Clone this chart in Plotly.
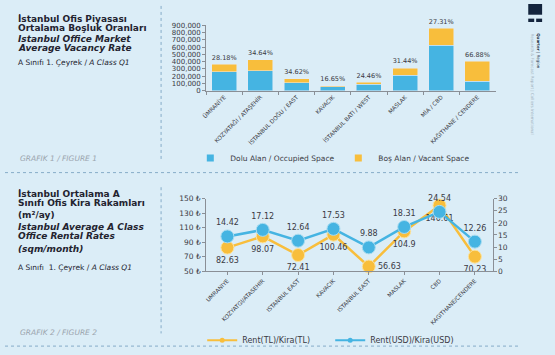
import plotly.graph_objects as go

# ---------------- Figure 1 data ----------------
districts1 = ["ÜMRANİYE", "KOZYATAĞI / ATAŞEHİR", "İSTANBUL DOĞU / EAST", "KAVACIK",
              "İSTANBUL BATI / WEST", "MASLAK", "MİA / CBD", "KAĞITHANE / CENDERE"]
occupied = [262000, 278000, 110000, 55000, 88000, 214000, 624000, 134000]
vacant = [103000, 147000, 58000, 11000, 28000, 98000, 234000, 271000]
vacancy_rate = [28.18, 34.64, 34.62, 16.65, 24.46, 31.44, 27.31, 66.88]

# ---------------- Figure 2 data ----------------
districts2 = ["UMRANIYE", "KOZYATGI/ATASEHIR", "ISTANBUL EAST", "KAVACIK",
              "ISTANBUL EAST", "MASLAK", "CBD", "KAGITHANE/CENDERE"]
rent_tl = [82.63, 98.07, 72.41, 100.46, 56.63, 104.9, 140.61, 70.23]
rent_usd = [14.42, 17.12, 12.64, 17.53, 9.88, 18.31, 24.54, 12.26]

W, H = 555, 355
BG = "#dbedf7"
BLUE = "#45b4e2"
YELLOW = "#f8be3c"
TXT = "#23232f"
LBL = "#3a3a44"
FONT = "DejaVu Sans"


def px(x):
    return x / W


def py(y):
    return 1 - y / H


fig = go.Figure()

# Figure 1 bars
fig.add_trace(go.Bar(x=districts1, y=occupied, marker_color=BLUE, showlegend=False,
                     xaxis="x", yaxis="y", hoverinfo="skip"))
fig.add_trace(go.Bar(x=districts1, y=vacant, marker_color=YELLOW, showlegend=False,
                     xaxis="x", yaxis="y", hoverinfo="skip",
                     text=[f"{v:.2f}%" for v in vacancy_rate], textposition="outside",
                     textfont=dict(size=7.5, color=LBL, family=FONT), cliponaxis=False))
# legend entries fig 1
fig.add_trace(go.Scatter(x=[None], y=[None], mode="markers", name="Dolu Alan / Occupied Space",
                         marker=dict(symbol="square", size=7, color=BLUE), legend="legend",
                         xaxis="x", yaxis="y"))
fig.add_trace(go.Scatter(x=[None], y=[None], mode="markers", name="Boş Alan / Vacant Space",
                         marker=dict(symbol="square", size=7, color=YELLOW), legend="legend",
                         xaxis="x", yaxis="y"))

# Figure 2 lines
idx = list(range(len(districts2)))
tl_pos = ["bottom center"] * len(idx)
tl_pos[4] = "middle right"
fig.add_trace(go.Scatter(x=idx, y=rent_tl, mode="lines+markers+text", showlegend=False,
                         line=dict(color=YELLOW, width=2.5),
                         marker=dict(size=13, color=YELLOW, line=dict(color="#fbe3a0", width=1)),
                         text=[f"{v:g}" for v in rent_tl], textposition=tl_pos,
                         textfont=dict(size=8, color=LBL, family=FONT),
                         xaxis="x2", yaxis="y2", cliponaxis=False, hoverinfo="skip"))
fig.add_trace(go.Scatter(x=idx, y=rent_usd, mode="lines+markers+text", showlegend=False,
                         line=dict(color=BLUE, width=2.5),
                         marker=dict(size=13, color=BLUE, line=dict(color="#a8dcf1", width=1)),
                         text=[f"{v:g}" for v in rent_usd], textposition="top center",
                         textfont=dict(size=8, color=LBL, family=FONT),
                         xaxis="x2", yaxis="y3", cliponaxis=False, hoverinfo="skip"))
fig.add_trace(go.Scatter(x=[None], y=[None], mode="lines+markers", name="Rent(TL)/Kira(TL)",
                         line=dict(color=YELLOW, width=2), marker=dict(size=5, color=YELLOW),
                         legend="legend2", xaxis="x2", yaxis="y2"))
fig.add_trace(go.Scatter(x=[None], y=[None], mode="lines+markers", name="Rent(USD)/Kira(USD)",
                         line=dict(color=BLUE, width=2), marker=dict(size=5, color=BLUE),
                         legend="legend2", xaxis="x2", yaxis="y2"))

axis_common = dict(showgrid=False, zeroline=False, showline=True, linecolor="#8a8f96",
                   linewidth=1, ticks="outside", ticklen=3, tickcolor="#8a8f96",
                   tickfont=dict(size=7.5, color=LBL, family=FONT))
cat_font = dict(size=5.7, color=LBL, family=FONT)

fig.update_layout(
    width=W, height=H, margin=dict(l=0, r=0, t=0, b=0),
    paper_bgcolor=BG, plot_bgcolor=BG,
    font=dict(family=FONT, color=TXT),
    barmode="stack", bargap=0.31,
    xaxis=dict(domain=[px(203), px(495)], anchor="y", type="category",
               tickangle=-45, tickson="boundaries", **{**axis_common, "tickfont": cat_font}),
    yaxis=dict(domain=[py(89), py(22)], anchor="x", range=[0, 900000], dtick=100000,
               tickformat=",d",
               **{**axis_common, "tickfont": dict(size=7, color=LBL, family=FONT)}),
    xaxis2=dict(domain=[px(203), px(492)], anchor="y2", range=[-0.6, 7.5],
                tickvals=idx, ticktext=districts2, tickangle=-45,
                **{**axis_common, "tickfont": cat_font}),
    yaxis2=dict(domain=[py(274.3), py(199.7)], anchor="x2", range=[50, 150], dtick=20,
                tick0=50, ticksuffix=" ₺", **axis_common),
    yaxis3=dict(overlaying="y2", anchor="x2", side="right", range=[0, 30], dtick=5,
                **axis_common),
    legend=dict(orientation="h", x=px(187), y=py(158), xanchor="left", yanchor="middle",
                traceorder="normal",
                bgcolor="rgba(0,0,0,0)", font=dict(size=7.5, color=LBL, family=FONT),
                itemwidth=30, entrywidth=103),
    legend2=dict(orientation="h", x=px(199), y=py(345), xanchor="left", yanchor="middle",
                 traceorder="normal",
                 bgcolor="rgba(0,0,0,0)", font=dict(size=8, color=LBL, family=FONT),
                 itemwidth=30, entrywidth=83),
)

# Left-side texts
def note(x, y, text, size, color=TXT, **kw):
    fig.add_annotation(x=px(x), y=py(y), xref="paper", yref="paper", text=text,
                       showarrow=False, xanchor="left", yanchor="middle",
                       font=dict(size=size, color=color, family=FONT), **kw)

TS = 9
note(11, 15.5, "<b>İstanbul Ofis Piyasası</b>", TS)
note(11, 25, "<b>Ortalama Boşluk Oranları</b>", TS)
note(11, 36, "<b><i>Istanbul Office Market</i></b>", TS)
note(11, 45, "<b><i>Average Vacancy Rate</i></b>", TS)
note(11, 60.5, "A Sınıfı 1. Çeyrek / <i>A Class Q1</i>", 7.5)
note(13, 159, "<i>GRAFIK 1 / FIGURE 1</i>", 7.5, color="#9aa4ad")

note(11, 195, "<b>İstanbul Ortalama A</b>", TS)
note(11, 204.5, "<b>Sınıfı Ofis Kira Rakamları</b>", TS)
note(11, 217, "<b>(m²/ay)</b>", TS)
note(11, 229, "<b><i>Istanbul Average A Class</i></b>", TS)
note(11, 238, "<b><i>Office Rental Rates</i></b>", TS)
note(11, 251, "<b><i>(sqm/month)</i></b>", TS)
note(11, 270, "A Sınıfı  1. Çeyrek / <i>A Class Q1</i>", 7.5)
note(13, 337, "<i>GRAFIK 2 / FIGURE 2</i>", 7.5, color="#9aa4ad")

# Right side vertical texts
fig.add_annotation(x=px(539), y=py(28), xref="paper", yref="paper",
                   text="<b>Quarter</b> | Region", textangle=90, showarrow=False,
                   xanchor="center", yanchor="top", font=dict(size=4, color="#2a3a4d", family=FONT))
fig.add_annotation(x=px(532), y=py(28), xref="paper", yref="paper",
                   text="Research & Forecast Report | Colliers International", textangle=90,
                   showarrow=False, xanchor="center", yanchor="top",
                   font=dict(size=4, color="#a3b3c0", family=FONT))

# Decorative shapes
def rect(x0, y0, x1, y1, color):
    fig.add_shape(type="rect", xref="paper", yref="paper", x0=px(x0), x1=px(x1),
                  y0=py(y1), y1=py(y0), fillcolor=color, line_width=0)

rect(528, 0, 542, 11, "#13243d")
rect(528, 15, 534, 18.5, "#13243d")
rect(536, 15, 542, 18.5, "#13243d")

def dline(x0, y0, x1, y1):
    fig.add_shape(type="line", xref="paper", yref="paper", x0=px(x0), x1=px(x1),
                  y0=py(y0), y1=py(y1), line=dict(color="#86acc8", width=1, dash="dot"))

dline(157.5, 2, 157.5, 160)
dline(0, 173, 520, 173)
dline(157.5, 188, 157.5, 338)
dline(0, 351, 520, 351)

fig.write_html("out.html", config={"displayModeBar": False},
               post_script="document.body.style.margin='0';document.body.style.overflow='hidden';")
